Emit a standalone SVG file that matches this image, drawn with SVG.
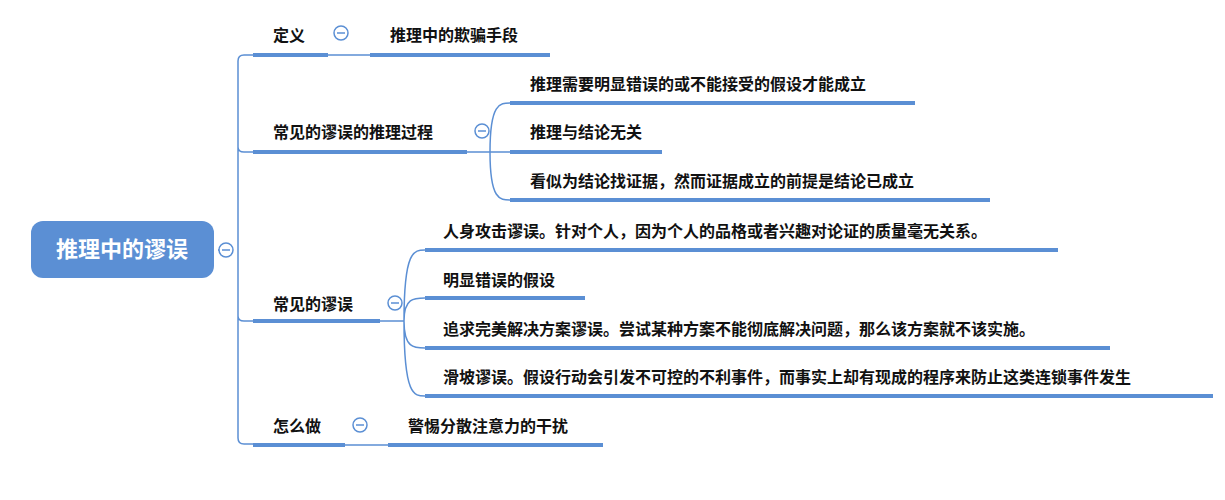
<svg xmlns="http://www.w3.org/2000/svg" width="1225" height="500" viewBox="0 0 1225 500">
<style>
.t{font-family:"Liberation Sans","Noto Sans CJK SC",sans-serif;font-size:16px;font-weight:bold;fill:#111}
.u{stroke:#5b8fd4;stroke-width:4;fill:none}
.l{stroke:#5b8fd4;stroke-width:1.5;fill:none}
.c{fill:#fff;stroke:#5b8fd4;stroke-width:1.5}
.m{stroke:#5b8fd4;stroke-width:1.5}
</style>
<rect width="1225" height="500" fill="#fff"/>
<g id="connectors">
<path class="l" d="M218,250 H232 M238,72 V438 Q238,444 244,444 H253 M244,55 Q238,55 238,61 M238,147 Q238,152 244,152 H253 M238,316 Q238,321 244,321 H253 M238,61 V72 M244,55 H253"/>
<path class="l" d="M328,55 H370 M345,445 H388"/>
<path class="l" d="M467,152 H490 M490,152 C490,103 500,103 510,103 M490,152 H510 M490,152 C490,200 500,200 510,200"/>
<path class="l" d="M380,321 H404 M404,321 C404,250 414,250 425,250 M404,321 C404,298 414,298 425,298 M404,321 C404,348 414,348 425,348 M404,321 C404,396 414,396 425,396"/>
</g>
<g id="root"><rect x="31" y="221" width="183" height="57" rx="12" fill="#5b8fd4"/><text x="122" y="257" text-anchor="middle" class="t" style="font-size:22px;fill:#fff">推理中的谬误</text><circle class="c" cx="226" cy="250" r="7"/><path class="m" d="M222,250H230"/></g>
<g id="n1"><text class="t" x="273" y="41">定义</text><path class="u" d="M253,55H328"/><circle class="c" cx="341" cy="33" r="7"/><path class="m" d="M337,33H345"/></g>
<g id="n1a"><text class="t" x="390" y="41">推理中的欺骗手段</text><path class="u" d="M370,55H550"/></g>
<g id="n2"><text class="t" x="273" y="138">常见的谬误的推理过程</text><path class="u" d="M253,152H467"/><circle class="c" cx="482" cy="131" r="7"/><path class="m" d="M478,131H486"/></g>
<g id="n2a"><text class="t" x="530" y="90">推理需要明显错误的或不能接受的假设才能成立</text><path class="u" d="M510,103H915"/></g>
<g id="n2b"><text class="t" x="530" y="138">推理与结论无关</text><path class="u" d="M510,152H662"/></g>
<g id="n2c"><text class="t" x="530" y="187">看似为结论找证据，然而证据成立的前提是结论已成立</text><path class="u" d="M510,200H990"/></g>
<g id="n3"><text class="t" x="273" y="310">常见的谬误</text><path class="u" d="M253,321H380"/><circle class="c" cx="395" cy="303" r="7"/><path class="m" d="M391,303H399"/></g>
<g id="n3a"><text class="t" x="443" y="237">人身攻击谬误。针对个人，因为个人的品格或者兴趣对论证的质量毫无关系。</text><path class="u" d="M425,250H1058"/></g>
<g id="n3b"><text class="t" x="443" y="286">明显错误的假设</text><path class="u" d="M425,298H585"/></g>
<g id="n3c"><text class="t" x="443" y="335">追求完美解决方案谬误。尝试某种方案不能彻底解决问题，那么该方案就不该实施。</text><path class="u" d="M425,348H1110"/></g>
<g id="n3d"><text class="t" x="443" y="383">滑坡谬误。假设行动会引发不可控的不利事件，而事实上却有现成的程序来防止这类连锁事件发生</text><path class="u" d="M425,396H1213"/></g>
<g id="n4"><text class="t" x="273" y="432">怎么做</text><path class="u" d="M253,445H345"/><circle class="c" cx="360" cy="425" r="7"/><path class="m" d="M356,425H364"/></g>
<g id="n4a"><text class="t" x="408" y="432">警惕分散注意力的干扰</text><path class="u" d="M388,445H603"/></g>
</svg>
